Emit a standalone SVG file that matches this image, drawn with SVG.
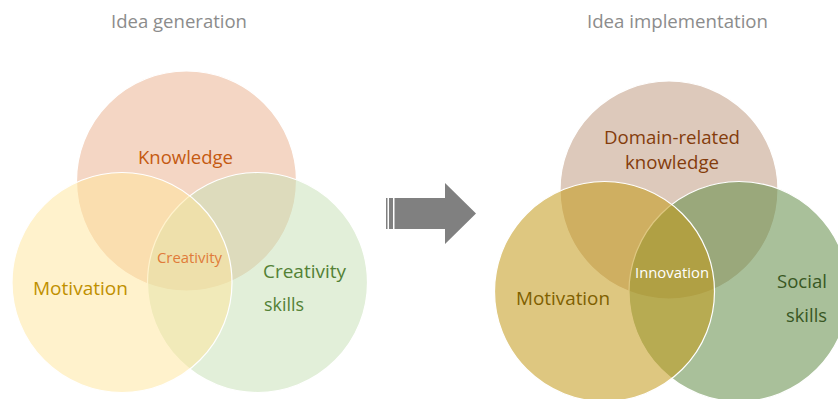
<svg xmlns="http://www.w3.org/2000/svg" width="838" height="399" viewBox="0 0 838 399">
  <style>
    text { font-family: "Open Sans", "Liberation Sans", sans-serif; }
    .title { font-size: 18px; fill: #8c8c8c; }
    .lbl { font-size: 18px; }
    .ring { stroke: #ffffff; stroke-width: 1.2; }
    .gen { fill-opacity: 0.5; }
    .imp { fill-opacity: 0.55; }
  </style>

  <rect width="838" height="399" fill="#ffffff"/>

  <!-- Left: idea generation -->
  <text class="title" x="111" y="28" textLength="136" lengthAdjust="spacingAndGlyphs">Idea generation</text>

  <g id="knowledge">
    <circle class="ring gen" cx="186.5" cy="181" r="110" fill="#E9AE8A"/>
    <text class="lbl" x="138" y="164" fill="#C55A11" textLength="95" lengthAdjust="spacingAndGlyphs">Knowledge</text>
  </g>
  <g id="creativity-skills">
    <circle class="ring gen" cx="257.5" cy="282.5" r="110" fill="#C5E0B4"/>
  </g>
  <g id="motivation-gen">
    <circle class="ring gen" cx="122" cy="282.5" r="110" fill="#FFE699"/>
  </g>
  <g id="creativity-skills-label">
    <text class="lbl" x="263" y="278" fill="#538135" textLength="83" lengthAdjust="spacingAndGlyphs">Creativity</text>
    <text class="lbl" x="264" y="311" fill="#538135" textLength="40" lengthAdjust="spacingAndGlyphs">skills</text>
  </g>
  <g id="motivation-gen-label">
    <text class="lbl" x="33" y="295" fill="#BF9000" textLength="95" lengthAdjust="spacingAndGlyphs">Motivation</text>
  </g>
  <g id="creativity">
    <text x="157" y="263" font-size="14" fill="#E07B39" textLength="65" lengthAdjust="spacingAndGlyphs">Creativity</text>
  </g>

  <!-- Striped block arrow between the two sets -->
  <g id="connectors">
    <g fill="#808080">
      <rect x="386" y="198" width="1.5" height="31"/>
      <rect x="389" y="198" width="4" height="31"/>
      <polygon points="394.5,198 445,198 445,183 476,213.5 445,244 445,229 394.5,229"/>
    </g>
  </g>

  <!-- Right: idea implementation -->
  <text class="title" x="587" y="28" textLength="181" lengthAdjust="spacingAndGlyphs">Idea implementation</text>

  <g id="domain-knowledge">
    <circle class="ring imp" cx="669" cy="190" r="109" fill="#C19D83"/>
    <text class="lbl" x="604" y="144" fill="#843C0C" textLength="136" lengthAdjust="spacingAndGlyphs">Domain-related</text>
    <text class="lbl" x="625" y="169" fill="#843C0C" textLength="94" lengthAdjust="spacingAndGlyphs">knowledge</text>
  </g>
  <g id="social-skills">
    <circle class="ring imp" cx="739" cy="291.5" r="110" fill="#638C47"/>
  </g>
  <g id="motivation-imp">
    <circle class="ring imp" cx="604.5" cy="291.5" r="110" fill="#C39918"/>
    <text class="lbl" x="516" y="305" fill="#7F6000" textLength="94" lengthAdjust="spacingAndGlyphs">Motivation</text>
  </g>
  <g id="social-skills-label">
    <text class="lbl" x="777" y="288" fill="#385723" textLength="50" lengthAdjust="spacingAndGlyphs">Social</text>
    <text class="lbl" x="786" y="322" fill="#385723" textLength="41" lengthAdjust="spacingAndGlyphs">skills</text>
  </g>
  <g id="innovation">
    <text x="635" y="278" font-size="15" fill="#ffffff" textLength="74" lengthAdjust="spacingAndGlyphs">Innovation</text>
  </g>
</svg>
